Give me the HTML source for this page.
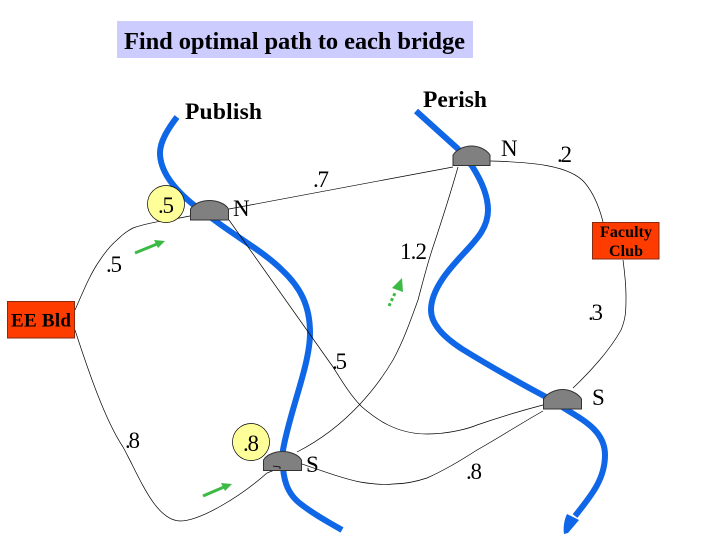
<!DOCTYPE html>
<html>
<head>
<meta charset="utf-8">
<style>
html,body{margin:0;padding:0;background:#fff;width:720px;height:540px;overflow:hidden}
svg{display:block}
text{font-family:"Liberation Serif",serif;fill:#000}
.b{font-weight:bold}
</style>
</head>
<body>
<svg width="720" height="540" viewBox="0 0 720 540" xmlns="http://www.w3.org/2000/svg">
<rect x="117" y="21" width="356" height="37" fill="#ccccff"/>
<text class="b" x="124" y="49" font-size="24.500" textLength="341" fill="#000">Find optimal path to each bridge</text>

<!-- rivers -->
<g fill="none" stroke="#0f66e6" stroke-width="6">
<path d="M177 117C167 130 160 142 160 153C160 172 175 190 195 206L217 222C240 239 265 253 282 270C300 287 310 305 310 333C310 365 290 410 283 450C281 480 288 495 302 505C315 515 328 522 342 530"/>
<path d="M416 111L457 148L472 166C481 180 488 195 488 210C488 228 476 240 465 252C452 266 431 288 431 310C431 325 445 338 462 349C488 365 516 381 546 397L567 410C585 421 605 432 605 455C605 480 590 497 575 516"/>
</g>
<path d="M567 514L579 520L568 533L564 534C563 528 564 520 567 514Z" fill="#0f66e6"/>

<!-- connectors -->
<g fill="none" stroke="#000" stroke-width="0.7">
<path d="M75 310C83 292 90 274 100 260C106 251 111 245 117 240C122 235 127 231 133 228C150 222 170 220 190 216"/>
<path d="M229 209L453 167"/>
<path d="M490 161C530 162 570 165 585 183C595 195 600 210 603 222"/>
<path d="M623 260C625 275 626 285 626 297C626 310 626 318 621 330C610 350 590 372 573 388"/>
<path d="M458 167C450 195 442 220 433 247C427 265 422 285 418 300C410 322 403 342 393 360C380 382 350 425 297 452"/>
<path d="M229 220L333 367C340 378 350 395 362 407C375 418 395 434 427 434C450 434 470 428 477 425C500 417 520 411 543 405"/>
<path d="M75 330C88 370 105 420 123 447C140 478 155 520 180 521C200 521 240 497 267 473L277 469"/>
<path d="M302 464C325 472 345 479 360 482C372 484 385 485 393 484C405 484 415 482 427 478C445 470 460 461 477 450C500 437 520 424 543 411"/>
</g>

<!-- yellow circles -->
<g fill="#ffff99" stroke="#000" stroke-width="0.7">
<circle cx="166" cy="204" r="18.500"/>
<circle cx="251" cy="442" r="18.500"/>
</g>

<!-- bridges -->
<g fill="#808080" stroke="#333" stroke-width="1">
<path d="M190.500 220V209C194 203 203 200.500 209.500 200.500C216 200.500 225 203 228.500 209V220Z"/>
<path d="M453 165.500V155C457 149 465 146 471.500 146C478 146 486 149 490 155V165.500Z"/>
<path d="M263.500 470.500V460C267 454 276 451.500 282.500 451.500C289 451.500 298 454 301.500 460V470.500Z"/>
<path d="M543.500 409V399C547 393 556 389.500 562.500 389.500C569 389.500 578 393 581.500 399V409Z"/>
</g>
<path d="M273 466L280 467V469" fill="none" stroke="#000" stroke-width="0.8"/>

<!-- boxes -->
<rect x="7.500" y="301.500" width="67" height="36.500" fill="#ff3c00" stroke="#8a2a10" stroke-width="1"/>
<text class="b" x="11" y="326.500" font-size="19" textLength="60" fill="#400">EE Bld</text>
<rect x="592.500" y="222.500" width="66.500" height="36.500" fill="#ff3c00" stroke="#8a2a10" stroke-width="1"/>
<text class="b" x="600" y="237" font-size="16" textLength="52" fill="#400">Faculty</text>
<text class="b" x="609" y="256" font-size="16" textLength="34" fill="#400">Club</text>

<!-- green arrows -->
<g stroke="#3cba45" stroke-width="3" fill="#3cba45">
<line x1="135" y1="253" x2="157" y2="244"/>
<path d="M154 240L165 241L158 248Z" stroke="none"/>
<line x1="203" y1="496" x2="224" y2="487"/>
<path d="M221 483L232 484L225 491Z" stroke="none"/>
<line x1="389" y1="306" x2="396" y2="291" stroke-dasharray="3 2.500"/>
<path d="M392 288L402 278L403 292Z" stroke="none"/>
</g>

<!-- labels -->
<text class="b" x="185" y="119" font-size="23.500" textLength="77">Publish</text>
<text class="b" x="423" y="107" font-size="23.500" textLength="64">Perish</text>
<g font-size="23">
<text x="158" y="213" textLength="16">.5</text>
<text x="243" y="451" textLength="16">.8</text>
<text x="106" y="272" textLength="16">.5</text>
<text x="125" y="448" textLength="15">.8</text>
<text x="313" y="187" textLength="16">.7</text>
<text x="557" y="162" textLength="15">.2</text>
<text x="400" y="259" textLength="27">1.2</text>
<text x="588" y="320" textLength="15">.3</text>
<text x="332" y="369" textLength="15">.5</text>
<text x="466" y="479" textLength="16">.8</text>
<text x="233" y="216">N</text>
<text x="501" y="156">N</text>
<text x="306" y="472">S</text>
<text x="592" y="405">S</text>
</g>
</svg>
</body>
</html>
